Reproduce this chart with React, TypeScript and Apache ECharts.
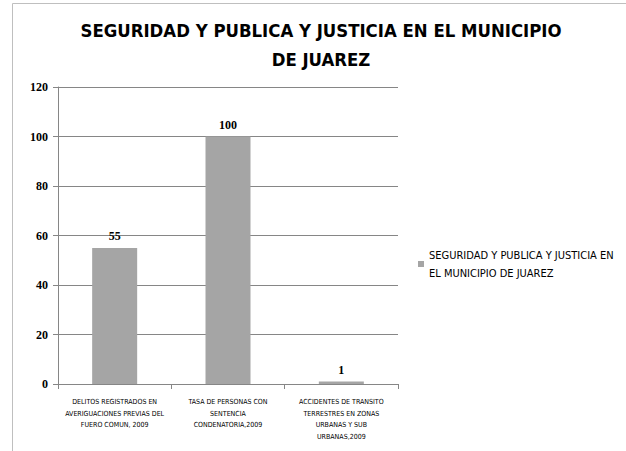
import React, { useEffect, useRef } from "react";
import * as echarts from "echarts";

const titleText = "SEGURIDAD Y PUBLICA Y JUSTICIA EN EL MUNICIPIO\nDE JUAREZ";
const seriesName = "SEGURIDAD Y PUBLICA Y JUSTICIA EN EL MUNICIPIO DE JUAREZ";
const legendLines = ["SEGURIDAD Y PUBLICA Y JUSTICIA EN", "EL MUNICIPIO DE JUAREZ"];
const categories = [
  "DELITOS REGISTRADOS EN\nAVERIGUACIONES PREVIAS DEL\nFUERO COMUN, 2009",
  "TASA DE PERSONAS CON\nSENTENCIA\nCONDENATORIA,2009",
  "ACCIDENTES DE TRANSITO\nTERRESTRES EN ZONAS\nURBANAS Y SUB\nURBANAS,2009",
];
const values = [55, 100, 1];
const yMin = 0;
const yMax = 120;
const yStep = 20;

export default function App() {
  const ref = useRef<HTMLDivElement>(null);
  useEffect(() => {
    if (!ref.current) return;
    const chart = echarts.init(ref.current, null, { renderer: "svg" });
    const narrow = "'DejaVu Sans Condensed', sans-serif";
    chart.setOption({
      animation: false,
      backgroundColor: "#ffffff",
      title: {
        text: titleText,
        left: 316,
        textAlign: "center",
        top: 11,
        textStyle: {
          fontFamily: narrow,
          fontWeight: "bold",
          fontSize: 18.4,
          lineHeight: 29,
          color: "#000000",
        },
      },
      legend: {
        data: [seriesName],
        orient: "vertical",
        left: 413,
        top: 232,
        icon: "rect",
        itemWidth: 6,
        itemHeight: 6,
        itemGap: 4,
        formatter: () => legendLines.join("\n"),
        textStyle: {
          fontFamily: narrow,
          fontSize: 11,
          lineHeight: 18,
          color: "#000000",
          padding: [18, 0, 0, 0],
        },
      },
      graphic: [
        {
          type: "rect",
          shape: { x: 12.5, y: 3.5, width: 700, height: 600 },
          style: { fill: "none", stroke: "#bfbfbf", lineWidth: 1 },
          silent: true,
        },
      ],
      grid: { left: 58, right: 228, top: 87, bottom: 67 },
      xAxis: {
        type: "category",
        data: categories,
        boundaryGap: true,
        axisLine: { show: true, lineStyle: { color: "#868686", width: 1 } },
        axisTick: { show: true, alignWithLabel: false, length: 5, lineStyle: { color: "#868686" } },
        axisLabel: {
          interval: 0,
          margin: 12,
          fontFamily: narrow,
          fontSize: 7,
          lineHeight: 11.7,
          color: "#000000",
        },
      },
      yAxis: {
        type: "value",
        min: yMin,
        max: yMax,
        interval: yStep,
        axisLine: { show: true, lineStyle: { color: "#868686", width: 1 } },
        axisTick: { show: true, length: 5, lineStyle: { color: "#868686" } },
        splitLine: { show: true, lineStyle: { color: "#868686", width: 1 } },
        axisLabel: {
          margin: 10,
          fontFamily: "'Liberation Serif', 'DejaVu Serif', serif",
          fontWeight: "bold",
          fontSize: 12,
          color: "#000000",
        },
      },
      series: [
        {
          name: seriesName,
          type: "bar",
          data: values,
          barWidth: 45,
          itemStyle: { color: "#a5a5a5" },
          label: {
            show: true,
            position: "top",
            distance: 6,
            fontFamily: "'Liberation Serif', 'DejaVu Serif', serif",
            fontWeight: "bold",
            fontSize: 12,
            color: "#000000",
          },
        },
      ],
    });
    return () => chart.dispose();
  }, []);
  return (
    <div
      ref={ref}
      style={{ position: "fixed", left: 0, top: 0, width: 626, height: 451 }}
    />
  );
}
